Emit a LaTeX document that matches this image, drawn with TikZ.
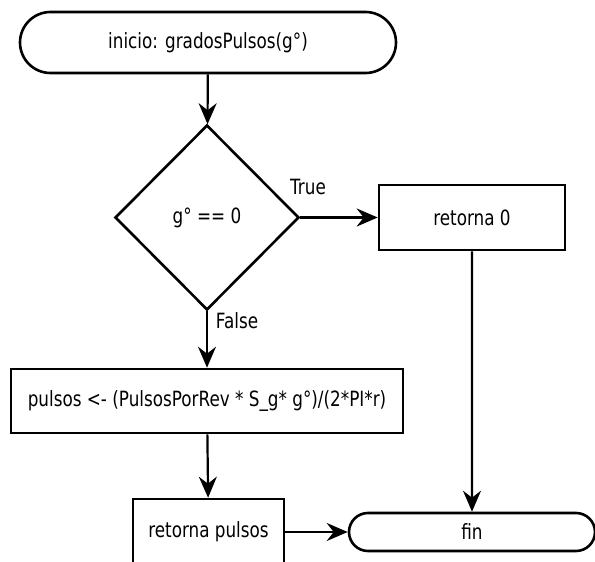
\documentclass[tikz,border=0pt]{standalone}
\usepackage{fontspec}
\setmainfont[FakeStretch=0.8]{DejaVu Sans}
\usetikzlibrary{arrows.meta,shapes.geometric,shapes.misc}
\tikzset{
  flowtxt/.style={font=\fontsize{21}{24}\selectfont},
  procbox/.style={flowtxt, draw, rectangle, line width=2.6pt, inner sep=0pt},
  termbox/.style={flowtxt, draw, rounded rectangle, line width=2.6pt, inner sep=0pt},
  decbox/.style={flowtxt, draw, diamond, aspect=1, line width=2.6pt, inner sep=0pt},
  flowarr/.style={-{Stealth[length=21pt,width=18pt,inset=7pt]}, line width=2.2pt},
}

\begin{document}
\begin{tikzpicture}[x=1pt,y=-1pt]
    \useasboundingbox (0,0) rectangle (595,562);
    % start / end terminals
    \node[termbox, minimum width=376pt, minimum height=61pt] (inicio) at (208,42.5)
      {inicio: gradosPulsos(g°)};
    \node[termbox, minimum width=246pt, minimum height=38pt] (fin) at (472,532) {fin};
    % decision
    \node[decbox, minimum width=184pt, minimum height=185pt] (cond) at (207,217.5) {g° == 0};
    % process boxes
    \node[procbox, minimum width=186pt, minimum height=65pt] (ret0) at (472,217.5) {retorna 0};
    \node[procbox, minimum width=392pt, minimum height=64pt] (pulsos) at (207,401)
      {pulsos <- (PulsosPorRev * S\_g* g°)/(2*PI*r)};
    \node[procbox, minimum width=151pt, minimum height=66pt] (retpulsos) at (208.5,532)
      {retorna pulsos};
    % branch labels
    \node[flowtxt] (lbltrue) at (308,187) {True};
    \node[flowtxt] (lblfalse) at (237,321) {False};
    % connectors
    \draw[flowarr] (inicio) -- (cond);
    \draw[flowarr] (cond) -- (ret0);
    \draw[flowarr] (cond) -- (pulsos);
    \draw[flowarr] (pulsos) -- (retpulsos);
    \draw[flowarr] (ret0) -- (fin);
    \draw[flowarr] (retpulsos) -- (fin);
\end{tikzpicture}
\end{document}
